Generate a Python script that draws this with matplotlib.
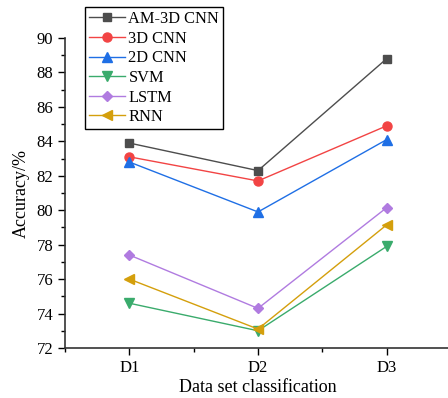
import matplotlib
matplotlib.use("Agg")
import matplotlib.pyplot as plt
from matplotlib.ticker import MultipleLocator

plt.rcParams['font.family'] = ['Liberation Serif', 'DejaVu Serif']
plt.rcParams['mathtext.fontset'] = 'stix'

categories = ["D1", "D2", "D3"]
series_names = ["AM-3D CNN", "3D CNN", "2D CNN", "SVM", "LSTM", "RNN"]
am3d = [83.9, 82.3, 88.8]
cnn3d = [83.1, 81.7, 84.9]
cnn2d = [82.8, 79.9, 84.1]
svm = [74.6, 73.0, 77.9]
lstm = [77.4, 74.3, 80.15]
rnn = [76.0, 73.1, 79.15]
values = [am3d, cnn3d, cnn2d, svm, lstm, rnn]

colors = ["#4d4d4d", "#f24444", "#1f6fe5", "#3aab6c", "#b07be0", "#d49f0c"]
markers = ["s", "o", "^", "v", "D", "<"]
msizes = [6, 6.5, 7, 7, 5.5, 7]

fig = plt.figure(figsize=(4.48, 3.98), dpi=100)
ax = fig.add_axes([65/448, 50/398, (451-65)/448, (348-38)/398])
x = [1, 2, 3]
for name, vals, c, m, ms in zip(series_names, values, colors, markers, msizes):
    ax.plot(x, vals, color=c, marker=m, markersize=ms, linewidth=1.0, label=name)

ax.set_xlim(0.5, 3.5)
ax.set_ylim(72, 90)
ax.set_xticks(x)
ax.set_xticklabels(categories)
ax.xaxis.set_minor_locator(MultipleLocator(0.5))
ax.yaxis.set_major_locator(MultipleLocator(2))
ax.yaxis.set_minor_locator(MultipleLocator(1))
ax.tick_params(axis='both', which='major', direction='out', length=5, width=1, labelsize=12)
ax.tick_params(axis='both', which='minor', direction='out', length=3, width=1)
for s in ['top', 'right']:
    ax.spines[s].set_visible(False)
for s in ['left', 'bottom']:
    ax.spines[s].set_linewidth(1.2)
    ax.spines[s].set_color('#333333')

ax.set_xlabel("Data set classification", fontsize=13, labelpad=2)
ax.set_ylabel("Accuracy/%", fontsize=13, labelpad=5)

leg = fig.legend(loc='upper left', bbox_to_anchor=(85/448, 1 - 7/398), fontsize=11.8,
                 frameon=True, fancybox=False, edgecolor='black', framealpha=1,
                 handlelength=2.2, borderpad=0.25, labelspacing=0.22, handletextpad=0.2,
                 borderaxespad=0)
leg.get_frame().set_linewidth(1.0)

fig.savefig("out.png", dpi=100)
